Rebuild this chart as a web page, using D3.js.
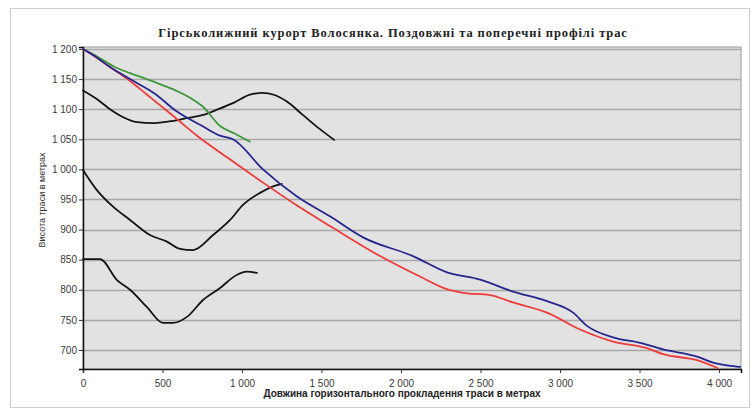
<!DOCTYPE html>
<html>
<head>
<meta charset="utf-8">
<script src="https://cdn.jsdelivr.net/npm/d3@7/dist/d3.min.js"></script>
<style>
  html, body { margin: 0; padding: 0; background: #fff; }
  svg { display: block; }
</style>
</head>
<body>
<div id="chart"></div>
<script>
// Гірськолижний курорт Волосянка — profiles
var title = 'Гірськолижний курорт Волосянка. Поздовжні та поперечні профілі трас';
var xTitle = 'Довжина горизонтального прокладення траси в метрах';
var yTitle = 'Висота траси в метрах';

var xTicks = [0, 500, 1000, 1500, 2000, 2500, 3000, 3500, 4000];
var yTicks = [700, 750, 800, 850, 900, 950, 1000, 1050, 1100, 1150, 1200];

// longitudinal profiles [distance, height]
var redTrack = [[0,1200],[60,1190],[170,1170],[300,1146],[403,1124],[566,1089],[717,1056],[906,1020],
  [1132,978],[1346,940],[1553,906],[1868,856],[2119,822],[2289,801],[2390,795],[2560,791],[2704,779],
  [2918,762],[3126,734],[3333,714],[3547,703],[3648,693],[3862,683],[3990,670]];
var blueTrack = [[0,1200],[63,1190],[170,1170],[296,1150],[450,1126],[591,1096],[750,1072],[862,1056],
  [943,1050],[1132,1000],[1346,955],[1553,922],[1761,887],[2075,856],[2289,829],[2497,817],[2704,797],
  [2918,781],[3082,762],[3170,740],[3333,721],[3503,712],[3648,701],[3862,689],[3962,679],[4060,674],[4132,672]];
var greenTrack = [[0,1200],[100,1186],[200,1170],[296,1160],[400,1150],[500,1140],[600,1129],[673,1119],
  [755,1104],[862,1072],[950,1060],[1050,1046]];

// cross profiles
var crossA = [[0,1131],[80,1118],[170,1100],[250,1087],[330,1079],[450,1077],[550,1080],[650,1085],
  [750,1090],[850,1100],[950,1111],[1050,1124],[1130,1127],[1200,1124],[1280,1113],[1380,1091],
  [1480,1069],[1580,1049]];
var crossB = [[0,999],[86,966],[189,938],[296,916],[421,891],[528,880],[610,868],[692,866],[818,891],
  [925,916],[1006,941],[1113,961],[1220,974],[1250,976]];
var crossC = [[0,851],[107,851],[214,816],[296,800],[403,771],[503,745],[566,745],[654,755],[755,783],
  [862,803],[969,825],[1031,830],[1094,828]];

var W = 755, H = 414;
var L = 83, R = 741, T = 47, B = 369;

var svg = d3.select('#chart').append('svg').attr('width', W).attr('height', H);

// outer frame
svg.append('rect').attr('x', 10.5).attr('y', 8.5).attr('width', 739).attr('height', 399)
  .attr('fill', '#fff').attr('stroke', '#cfcfcf').attr('stroke-width', 1);

var x = d3.scaleLinear().domain([0, 4138]).range([L, R]);
var y = d3.scaleLinear().domain([668.4, 1203.3]).range([B, T]);

// plot background
svg.append('rect').attr('x', L).attr('y', T).attr('width', R - L).attr('height', B - T)
  .attr('fill', '#e2e2e2').attr('stroke', '#9a9a9a').attr('stroke-width', 1);

// horizontal grid
svg.append('g').selectAll('line').data(yTicks).join('line')
  .attr('x1', L).attr('x2', R)
  .attr('y1', function (d) { return Math.round(y(d)) + 0.5; })
  .attr('y2', function (d) { return Math.round(y(d)) + 0.5; })
  .attr('stroke', '#a8a8a8').attr('stroke-width', 1.5);

var fmt = function (d) { return d3.format(',')(d).replace(/,/g, ' '); };

// axes
var gx = svg.append('g').attr('transform', 'translate(0,' + B + ')')
  .call(d3.axisBottom(x).tickValues(xTicks).tickFormat(fmt).tickSize(4).tickPadding(7));
var gy = svg.append('g').attr('transform', 'translate(' + L + ',0)')
  .call(d3.axisLeft(y).tickValues(yTicks).tickFormat(fmt).tickSize(4).tickPadding(2));
[gx, gy].forEach(function (g) {
  g.select('.domain').attr('stroke', '#111').attr('stroke-width', 1.5);
  g.selectAll('.tick line').attr('stroke', '#333');
  g.selectAll('.tick text').attr('fill', '#3a3a3a')
    .style('font-family', '"Liberation Sans", Arial, sans-serif').style('font-size', '10px');
});

// lines (all profiles run left to right, so monotone-x keeps flats flat)
var line = d3.line().curve(d3.curveMonotoneX)
  .x(function (d) { return x(d[0]); }).y(function (d) { return y(d[1]); });
var series = [
  { data: crossA, color: '#141414' },
  { data: crossB, color: '#141414' },
  { data: crossC, color: '#141414' },
  { data: greenTrack, color: '#3c9a3c' },
  { data: redTrack, color: '#ee3b3b' },
  { data: blueTrack, color: '#26268f' }
];
var lg = svg.append('g');
series.forEach(function (s) {
  lg.append('path').datum(s.data).attr('d', line)
    .attr('fill', 'none').attr('stroke', s.color).attr('stroke-width', 1.8)
    .attr('stroke-linejoin', 'round').attr('stroke-linecap', 'round');
});

// texts
svg.append('text').attr('x', 393).attr('y', 37).attr('text-anchor', 'middle')
  .style('font-family', '"Liberation Serif", "Times New Roman", serif')
  .style('font-weight', 'bold').style('font-size', '12.5px').style('letter-spacing', '0.9px')
  .attr('fill', '#222')
  .text(title);

svg.append('text').attr('x', 402).attr('y', 397).attr('text-anchor', 'middle')
  .style('font-family', '"Liberation Sans", Arial, sans-serif')
  .style('font-weight', 'bold').style('font-size', '10px').attr('fill', '#222')
  .text(xTitle);

svg.append('text').attr('transform', 'translate(45,' + ((T + B) / 2 - 8) + ') rotate(-90)')
  .attr('text-anchor', 'middle')
  .style('font-family', '"Liberation Sans", Arial, sans-serif')
  .style('font-size', '9px').attr('fill', '#333')
  .text(yTitle);
</script>
</body>
</html>
